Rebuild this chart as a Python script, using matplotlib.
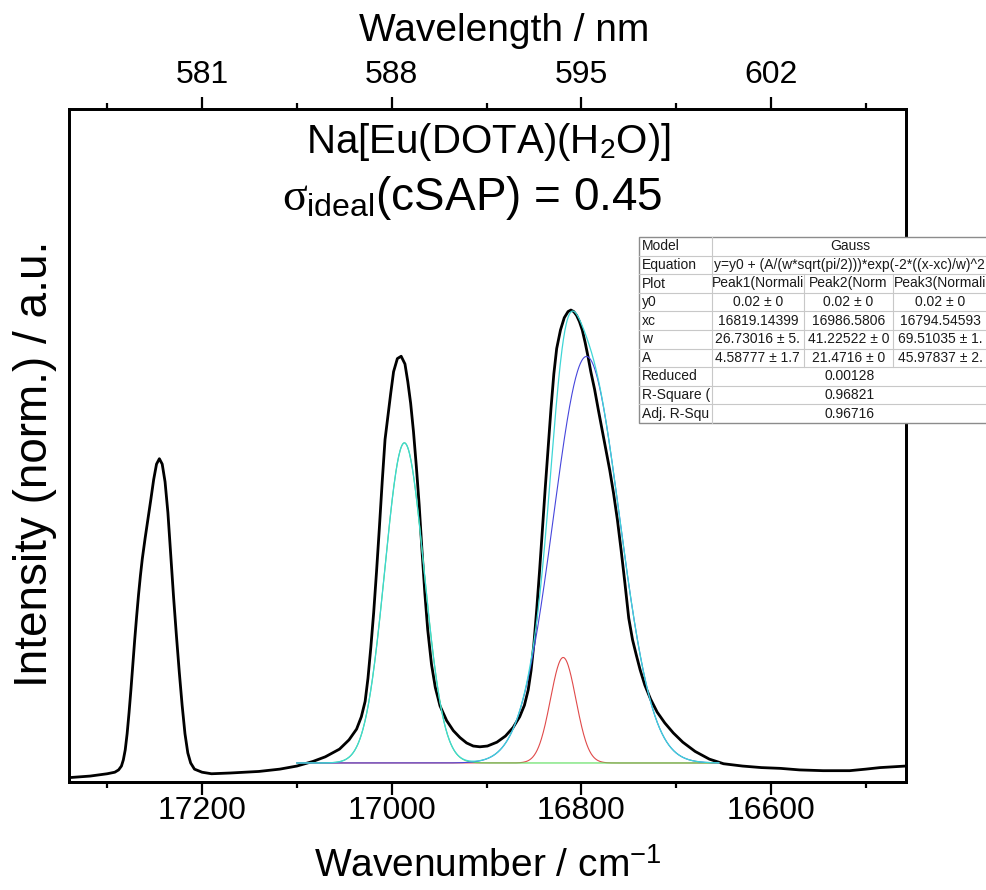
import numpy as np
import matplotlib
matplotlib.use("Agg")
import matplotlib.pyplot as plt
from matplotlib.patches import Rectangle
from matplotlib.ticker import MultipleLocator, FixedLocator

plt.rcParams["font.family"] = ["Liberation Sans", "DejaVu Sans"]
plt.rcParams["mathtext.fontset"] = "custom"
plt.rcParams["mathtext.rm"] = "Liberation Sans"
plt.rcParams["mathtext.it"] = "Liberation Serif"
plt.rcParams["mathtext.bf"] = "Liberation Sans:bold"

# measured emission spectrum (normalised)
wavenumber = [17340, 17318, 17300, 17292, 17288, 17285, 17283, 17281, 17279, 17277,
              17275, 17273, 17271, 17269, 17267, 17265, 17263, 17260, 17257, 17254,
              17251, 17248, 17245, 17242, 17239, 17236, 17233, 17230, 17227, 17224,
              17221, 17218, 17215, 17212, 17208, 17200, 17190, 17170, 17140, 17118,
              17100, 17083, 17070, 17055, 17045, 17037, 17032, 17028, 17025, 17022,
              17019, 17016, 17013, 17010, 17007, 17004, 17001, 16998, 16994, 16990,
              16986, 16983, 16980, 16977, 16974, 16971, 16968, 16965, 16962, 16958,
              16954, 16949, 16942, 16935, 16928, 16921, 16914, 16907, 16899, 16889,
              16880, 16872, 16865, 16860, 16856, 16853, 16850, 16847, 16844, 16841,
              16838, 16835, 16832, 16829, 16826, 16822, 16818, 16814, 16811, 16808,
              16805, 16802, 16799, 16796, 16793, 16790, 16786, 16782, 16778, 16774,
              16770, 16766, 16762, 16758, 16754, 16750, 16746, 16742, 16738, 16733,
              16727, 16720, 16712, 16703, 16693, 16680, 16665, 16650, 16630, 16610,
              16590, 16570, 16545, 16517, 16500, 16485, 16458]
intensity = [0.001, 0.003, 0.006, 0.008, 0.011, 0.016, 0.024, 0.037, 0.058, 0.085,
             0.115, 0.148, 0.180, 0.210, 0.238, 0.263, 0.285, 0.312, 0.337, 0.362,
             0.388, 0.408, 0.415, 0.408, 0.385, 0.345, 0.290, 0.235, 0.185, 0.138,
             0.095, 0.058, 0.033, 0.020, 0.012, 0.008, 0.006, 0.007, 0.009, 0.012,
             0.016, 0.022, 0.028, 0.038, 0.050, 0.064, 0.080, 0.100, 0.130, 0.170,
             0.215, 0.268, 0.325, 0.385, 0.440, 0.470, 0.500, 0.528, 0.545, 0.548,
             0.538, 0.515, 0.487, 0.450, 0.405, 0.355, 0.295, 0.240, 0.193, 0.148,
             0.118, 0.094, 0.075, 0.062, 0.053, 0.046, 0.042, 0.041, 0.042, 0.047,
             0.055, 0.066, 0.080, 0.095, 0.115, 0.140, 0.175, 0.220, 0.270, 0.325,
             0.378, 0.430, 0.480, 0.525, 0.558, 0.582, 0.598, 0.606, 0.608, 0.606,
             0.601, 0.593, 0.582, 0.566, 0.548, 0.528, 0.505, 0.478, 0.452, 0.426,
             0.400, 0.370, 0.336, 0.296, 0.253, 0.208, 0.180, 0.160, 0.141, 0.121,
             0.103, 0.086, 0.072, 0.059, 0.047, 0.035, 0.025, 0.019, 0.016, 0.014,
             0.013, 0.011, 0.010, 0.010, 0.012, 0.014, 0.016]

# Gauss fit: y = y0 + A/(w*sqrt(pi/2)) * exp(-2*((x-xc)/w)^2)
y0 = 0.02
xc = [16819.14399, 16986.5806, 16794.54593]
w = [26.73016, 41.22522, 69.51035]
A = [4.58777, 21.4716, 45.97837]
fit_range = (17100, 16655)
peak_colors = ["#e04a4a", "#5ade5a", "#4646dc"]
cumulative_color = "#3ed6d6"

# fit report
plot_names = ["Peak1(Normali", "Peak2(Norm", "Peak3(Normali"]
y0_text = ["0.02 ± 0", "0.02 ± 0", "0.02 ± 0"]
xc_text = ["16819.14399", "16986.5806", "16794.54593"]
w_text = ["26.73016 ± 5.", "41.22522 ± 0", "69.51035 ± 1."]
A_text = ["4.58777 ± 1.7", "21.4716 ± 0", "45.97837 ± 2."]
report_rows = [
    ("Model", ["Gauss"]),
    ("Equation", ["y=y0 + (A/(w*sqrt(pi/2)))*exp(-2*((x-xc)/w)^2"]),
    ("Plot", plot_names),
    ("y0", y0_text),
    ("xc", xc_text),
    ("w", w_text),
    ("A", A_text),
    ("Reduced", ["0.00128"]),
    ("R-Square (", ["0.96821"]),
    ("Adj. R-Squ", ["0.96716"]),
]

major_ticks = [17200, 17000, 16800, 16600]

W, H = 987, 890
fig = plt.figure(figsize=(W / 100, H / 100), dpi=100)
ax = fig.add_axes([69 / W, 1 - 782 / H, 837 / W, 673 / H])

def gauss(x, xc_i, w_i, A_i):
    return A_i / (w_i * np.sqrt(np.pi / 2)) * np.exp(-2 * ((x - xc_i) / w_i) ** 2)

xf = np.linspace(fit_range[0], fit_range[1], 900)
ax.plot(wavenumber, intensity, color="black", lw=2.0, zorder=2,
        solid_joinstyle="round", solid_capstyle="round")
for k in range(3):
    ax.plot(xf, y0 + gauss(xf, xc[k], w[k], A[k]), color=peak_colors[k], lw=0.8, zorder=3 + k)
cumulative = y0 + sum(gauss(xf, xc[k], w[k], A[k]) for k in range(3))
ax.plot(xf, cumulative, color=cumulative_color, lw=0.9, zorder=7)

ax.set_xlim(17340.3, 16457.6)
ax.set_ylim(-0.0047, 0.869)
ax.set_yticks([])

tick_size = 23
lab_size = 28

ax.xaxis.set_major_locator(FixedLocator(major_ticks))
ax.xaxis.set_minor_locator(MultipleLocator(100))
ax.tick_params(axis="x", which="major", direction="out", length=9, width=1.6,
               labelsize=tick_size, pad=1)
ax.tick_params(axis="x", which="minor", direction="out", length=4.5, width=1.6)
for s in ax.spines.values():
    s.set_linewidth(2.0)

top = ax.twiny()
top.set_xlim(ax.get_xlim())
top.xaxis.set_major_locator(FixedLocator(major_ticks))
top.set_xticklabels([f"{1e7 / v:.0f}" for v in major_ticks])
top.xaxis.set_minor_locator(MultipleLocator(100))
top.tick_params(axis="x", which="major", direction="out", length=9, width=1.6,
                labelsize=tick_size, pad=5)
top.tick_params(axis="x", which="minor", direction="out", length=4.5, width=1.6)
for s in top.spines.values():
    s.set_linewidth(2.0)

fig.text(488 / W, 1 - 877 / H, r"Wavenumber / cm$^{\mathrm{-1}}$", ha="center", va="baseline",
         fontsize=lab_size)
fig.text(504 / W, 1 - 41 / H, "Wavelength / nm", ha="center", va="baseline", fontsize=lab_size)
fig.text(35 / W, 1 - 464 / H, "Intensity (norm.) / a.u.", rotation=90, ha="center", va="center",
         fontsize=33)

fig.text(488 / W, 1 - 153 / H, r"Na[Eu(DOTA)(H$_{\mathrm{2}}$O)]", ha="center", va="baseline", fontsize=29)
fig.text(472 / W, 1 - 210 / H, r"$\sigma_{\mathrm{ideal}}$(cSAP) = 0.45", ha="center", va="baseline",
         fontsize=33)

# fit report table drawn in pixel space on top of the plot
ov = fig.add_axes([0, 0, 1, 1], zorder=10)
ov.set_xlim(0, W)
ov.set_ylim(H, 0)
ov.axis("off")
col_x = [639, 711.7, 804, 892.7, 988]
row_h = 18.6
tab_top = 237
n_rows = len(report_rows)
ov.add_patch(Rectangle((col_x[0], tab_top), col_x[-1] - col_x[0], n_rows * row_h,
                       facecolor="white", edgecolor="#8c8c8c", lw=1.0, zorder=1))
for i, (label, cells) in enumerate(report_rows):
    y = tab_top + i * row_h
    if i > 0:
        ov.plot([col_x[0], col_x[-1]], [y, y], color="#c8c8c8", lw=0.8, zorder=2)
    ov.text(col_x[0] + 3, y + row_h / 2, label, ha="left", va="center", fontsize=10,
            color="#1a1a1a", zorder=3)
    ov.plot([col_x[1], col_x[1]], [y, y + row_h], color="#c8c8c8", lw=0.8, zorder=2)
    if len(cells) == 1:
        ov.text((col_x[1] + col_x[-1]) / 2, y + row_h / 2, cells[0], ha="center", va="center",
                fontsize=10, color="#1a1a1a", zorder=3)
    else:
        for j, c in enumerate(cells):
            if j > 0:
                ov.plot([col_x[j + 1], col_x[j + 1]], [y, y + row_h], color="#c8c8c8", lw=0.8, zorder=2)
            ov.text((col_x[j + 1] + col_x[j + 2]) / 2, y + row_h / 2, c, ha="center", va="center",
                    fontsize=10, color="#1a1a1a", zorder=3)

fig.savefig("out.png", dpi=100)
